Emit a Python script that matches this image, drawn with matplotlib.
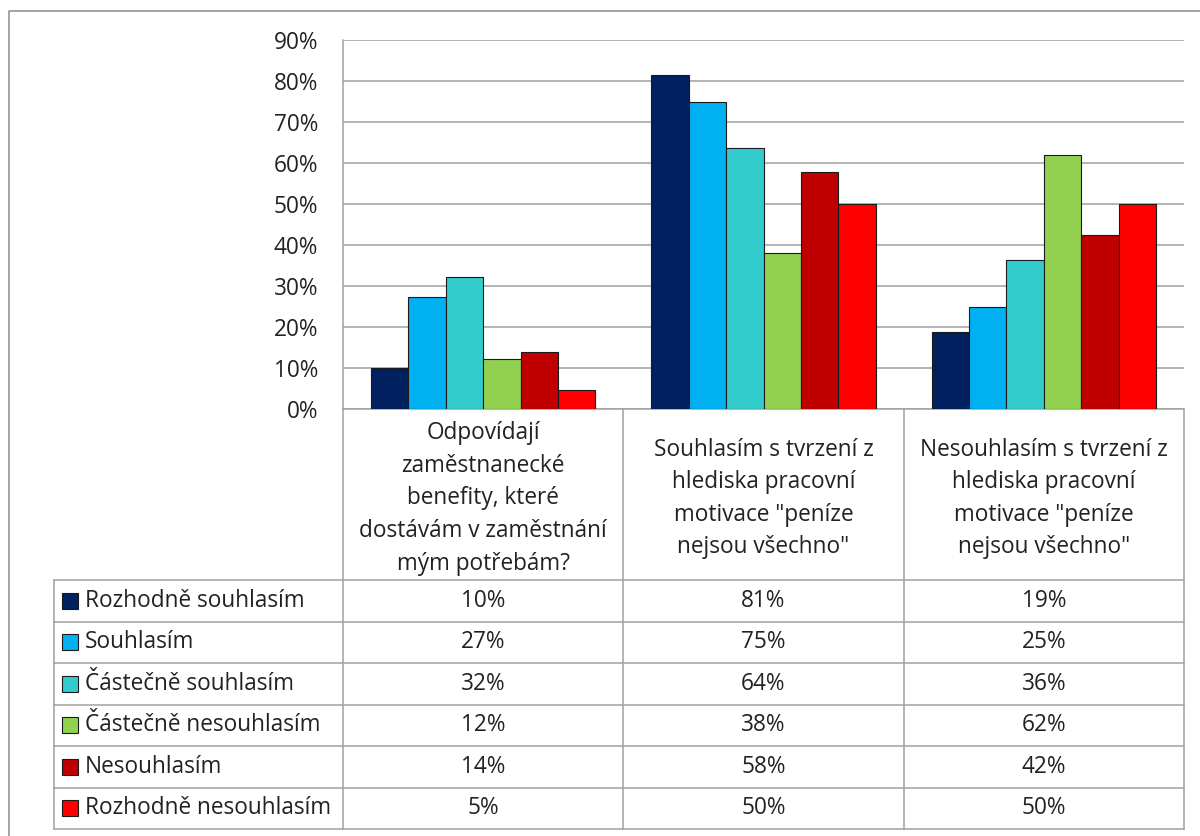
import matplotlib
matplotlib.use("Agg")
import matplotlib.pyplot as plt
import numpy as np
from matplotlib.patches import Rectangle

plt.rcParams['font.family'] = ['Open Sans', 'DejaVu Sans']

# ---- data -------------------------------------------------------------
categories = [
    "Odpovídají\nzaměstnanecké\nbenefity, které\ndostávám v zaměstnání\nmým potřebám?",
    "Souhlasím s tvrzení z\nhlediska pracovní\nmotivace \"peníze\nnejsou všechno\"",
    "Nesouhlasím s tvrzení z\nhlediska pracovní\nmotivace \"peníze\nnejsou všechno\"",
]
series_names = [
    "Rozhodně souhlasím",
    "Souhlasím",
    "Částečně souhlasím",
    "Částečně nesouhlasím",
    "Nesouhlasím",
    "Rozhodně nesouhlasím",
]
rozhodne_souhlasim = [0.100, 0.814, 0.187]
souhlasim = [0.273, 0.749, 0.250]
castecne_souhlasim = [0.322, 0.637, 0.364]
castecne_nesouhlasim = [0.122, 0.381, 0.619]
nesouhlasim = [0.139, 0.578, 0.424]
rozhodne_nesouhlasim = [0.046, 0.500, 0.500]
series_values = [rozhodne_souhlasim, souhlasim, castecne_souhlasim,
                 castecne_nesouhlasim, nesouhlasim, rozhodne_nesouhlasim]
colors = ["#002060", "#00B0F0", "#33CCCC", "#92D050", "#C00000", "#FF0000"]
y_ticks = [0.0, 0.1, 0.2, 0.3, 0.4, 0.5, 0.6, 0.7, 0.8, 0.9]

# ---- layout (pixels) --------------------------------------------------
W, H = 1200, 836
plot_left, plot_right = 343, 1184
plot_top, plot_bottom = 40, 409
header_bottom = 580
row_h = (829 - header_bottom) / len(series_names)
legend_left = 54
grid_col = "#A0A0A0"
text_col = "#222222"
fs = 16.3

fig = plt.figure(figsize=(W / 100, H / 100), dpi=100)

# pixel-coordinate canvas for the frame and the data table
canvas = fig.add_axes([0, 0, 1, 1])
canvas.set_xlim(0, W)
canvas.set_ylim(H, 0)
canvas.axis("off")

# outer chart frame
canvas.plot([9, 9, W], [H, 11, 11], color="#8C8C8C", lw=1.1, solid_capstyle="butt")

# ---- bar chart --------------------------------------------------------
ax = fig.add_axes([plot_left / W, 1 - plot_bottom / H,
                   (plot_right - plot_left) / W, (plot_bottom - plot_top) / H])
ax.set_zorder(2)
ax.patch.set_alpha(0)
n = len(series_names)
bar_w = 1 / 7.5
x = np.arange(len(categories)) + 0.5
for j, (vals, c) in enumerate(zip(series_values, colors)):
    ax.bar(x + (j - (n - 1) / 2) * bar_w, vals, width=bar_w, color=c,
           edgecolor="#1a1a1a", linewidth=0.8, zorder=3)
ax.set_xlim(0, len(categories))
ax.set_ylim(0, 0.9)
ax.set_yticks(y_ticks)
ax.set_yticklabels([f"{t:.0%}" for t in y_ticks], fontsize=fs, color=text_col)
ax.tick_params(axis="y", length=0, pad=18)
ax.set_xticks([])
ax.yaxis.grid(True, color=grid_col, lw=1.1, zorder=0)
ax.set_axisbelow(True)
for s in ("top", "right"):
    ax.spines[s].set_visible(False)
for s in ("left", "bottom"):
    ax.spines[s].set_color(grid_col)
    ax.spines[s].set_linewidth(1.1)

# ---- data table -------------------------------------------------------
col_edges = np.linspace(plot_left, plot_right, len(categories) + 1)
lw_t = 1.1
for xe in col_edges:
    canvas.plot([xe, xe], [plot_bottom, 829], color=grid_col, lw=lw_t)
canvas.plot([legend_left, legend_left], [header_bottom, 829], color=grid_col, lw=lw_t)
for i in range(n + 1):
    yy = header_bottom + i * row_h
    canvas.plot([legend_left, plot_right], [yy, yy], color=grid_col, lw=lw_t)

for k, cat in enumerate(categories):
    cx = (col_edges[k] + col_edges[k + 1]) / 2
    canvas.text(cx, (plot_bottom + header_bottom) / 2 + 4, cat, ha="center",
                va="center", fontsize=fs, color=text_col, linespacing=1.48)

for i, (name, vals, c) in enumerate(zip(series_names, series_values, colors)):
    cy = header_bottom + (i + 0.5) * row_h
    canvas.add_patch(Rectangle((62, cy - 8), 16, 16, facecolor=c,
                               edgecolor="#1a1a1a", lw=0.8))
    canvas.text(85, cy, name, ha="left", va="center", fontsize=fs, color=text_col)
    for k, v in enumerate(vals):
        cx = (col_edges[k] + col_edges[k + 1]) / 2
        canvas.text(cx, cy, f"{v:.0%}", ha="center", va="center",
                    fontsize=fs, color=text_col)

fig.savefig("out.png", dpi=100)
